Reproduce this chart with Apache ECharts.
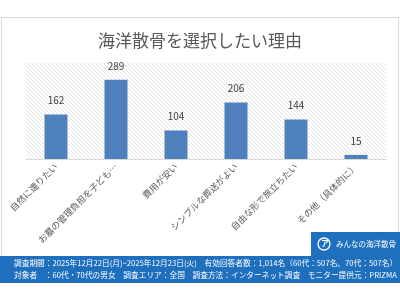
<!DOCTYPE html>
<html><head><meta charset="utf-8">
<script src="https://cdn.jsdelivr.net/npm/echarts@6/dist/echarts.min.js"></script>
<style>html,body{margin:0;padding:0;background:#fff}#c{width:400px;height:300px}</style>
</head><body><div id="c"></div>
<script>
const titleText = '海洋散骨を選択したい理由';
const categories = ['自然に還りたい','お墓の管理負担を子ども…','費用が安い','シンプルな葬送がよい','自由な形で旅立ちたい','その他（具体的に）'];
const values = [162, 289, 104, 206, 144, 15];
const footerLine1 = '調査期間：2025年12月22日(月)~2025年12月23日(火)　有効回答者数：1,014名（60代：507名、70代：507名）';
const footerLine2 = '対象者　：60代・70代の男女　調査エリア：全国　調査方法：インターネット調査　モニター提供元：PRIZMA';
const logoText = 'みんなの海洋散骨';

const pc = document.createElement('canvas');
pc.width = 4; pc.height = 4;
const px = pc.getContext('2d');
px.fillStyle = '#ffffff'; px.fillRect(0,0,4,4);
px.strokeStyle = '#e2e2e2'; px.lineWidth = 1;
px.beginPath(); px.moveTo(0,0); px.lineTo(4,4); px.moveTo(-2,2); px.lineTo(2,6); px.moveTo(2,-2); px.lineTo(6,2); px.stroke();

const chart = echarts.init(document.getElementById('c'), null, {renderer:'canvas'});
const font = '"Noto Sans CJK JP", "Noto Sans", sans-serif';
chart.setOption({
  animation:false,
  backgroundColor:'#ffffff',
  title:{text:titleText,left:'center',top:27,textStyle:{color:'#595959',fontSize:17,fontWeight:'normal',fontFamily:font}},
  grid:{left:26,right:14,top:63,bottom:141,show:true,borderWidth:0,backgroundColor:{image:pc,repeat:'repeat'}},
  xAxis:{type:'category',data:categories,
    axisLine:{lineStyle:{color:'#d9d9d9'}},axisTick:{show:false},
    axisLabel:{rotate:45,interval:0,color:'#595959',fontSize:9,fontFamily:font,margin:6}},
  yAxis:{type:'value',min:0,max:350,show:false,splitLine:{show:false}},
  series:[{type:'bar',data:values,barWidth:23,itemStyle:{color:'#4f81bd'},
    label:{show:true,position:'top',distance:9,color:'#404040',fontSize:10,fontFamily:font}}],
  graphic:[
    {type:'rect',shape:{x:1.5,y:17.5,width:397,height:240},style:{fill:'none',stroke:'#d9d9d9',lineWidth:1},z:-1},
    {type:'rect',shape:{x:311,y:232,width:89,height:25},style:{fill:'#1e6fbe'},z:10},
    {type:'circle',shape:{cx:324,cy:244,r:6},style:{fill:'none',stroke:'#ffffff',lineWidth:1.3},z:11},
    {type:'text',x:321,y:239,style:{text:'ア',fill:'#ffffff',font:'bold 8px '+font},z:12},
    {type:'text',x:336,y:240,style:{text:logoText,fill:'#ffffff',font:'7.5px '+font},z:11},
    {type:'rect',shape:{x:0,y:256,width:400,height:27},style:{fill:'#1e6fbe'},z:10},
    {type:'text',x:14,y:259.5,style:{text:footerLine1,fill:'#ffffff',font:'7.7px '+font},z:11},
    {type:'text',x:14,y:271.5,style:{text:footerLine2,fill:'#ffffff',font:'7.7px '+font},z:11}
  ]
});
</script></body></html>
